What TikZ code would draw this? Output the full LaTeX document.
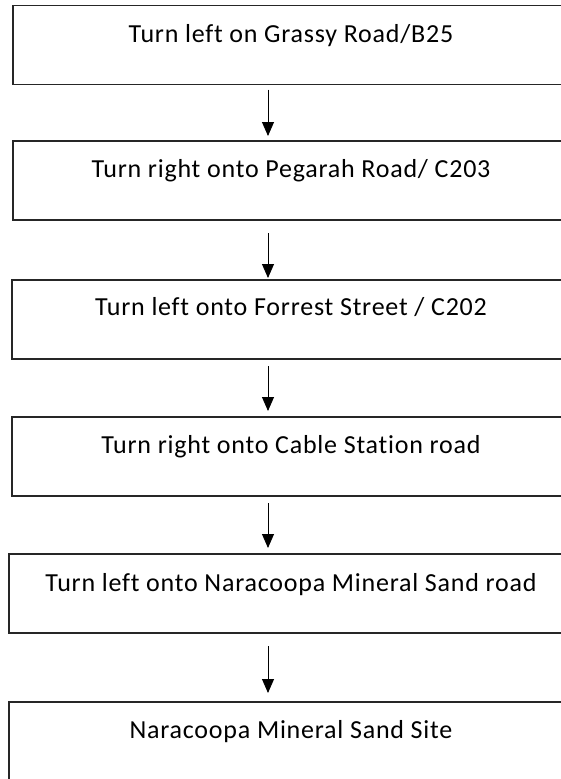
\documentclass[tikz,border=0pt]{standalone}
\usepackage{fontspec}
\setmainfont{Carlito}[Ligatures=NoCommon, LetterSpace=3]
\usetikzlibrary{arrows.meta}
\begin{document}
\begin{tikzpicture}[x=1pt,y=-1pt,
  box/.style={draw=black!85, line width=1.1pt, rectangle, anchor=north west,
    minimum width=558pt, minimum height=79pt, inner sep=0pt, outer sep=0pt},
  lbl/.style={anchor=base, inner sep=0pt, font=\fontsize{26}{30}\selectfont},
  arr/.style={draw=black, line width=0.9pt, -{Triangle[width=12pt,length=14pt]}}]
\fill[white] (0,0) rectangle (561,779);
\useasboundingbox (0,0) rectangle (561,779);
\clip (0,0) rectangle (561,779);
\coordinate (ax) at (268,0);
\node[box] (b1) at (13,5.7) {};
\node[box] (b2) at (13,141) {};
\node[box] (b3) at (12,280) {};
\node[box] (b4) at (12,417) {};
\node[box] (b5) at (9,554) {};
\node[box] (b6) at (9,702) {};
\node[lbl] (t1) at (291,42) {Turn left on Grassy Road/B25};
\node[lbl] (t2) at (291,177) {Turn right onto Pegarah Road/ C203};
\node[lbl] (t3) at (291,315) {Turn left onto Forrest Street / C202};
\node[lbl] (t4) at (291,453) {Turn right onto Cable Station road};
\node[lbl] (t5) at (291,591) {Turn left onto Naracoopa Mineral Sand road};
\node[lbl] (t6) at (291,738) {Naracoopa Mineral Sand Site};
\draw[arr, shorten <=5pt, shorten >=5pt] (b1.south -| ax) -- (b2.north -| ax);
\draw[arr, shorten <=13pt, shorten >=2pt] (b2.south -| ax) -- (b3.north -| ax);
\draw[arr, shorten <=7pt, shorten >=6pt] (b3.south -| ax) -- (b4.north -| ax);
\draw[arr, shorten <=7pt, shorten >=6pt] (b4.south -| ax) -- (b5.north -| ax);
\draw[arr, shorten <=13pt, shorten >=9pt] (b5.south -| ax) -- (b6.north -| ax);
\end{tikzpicture}
\end{document}
